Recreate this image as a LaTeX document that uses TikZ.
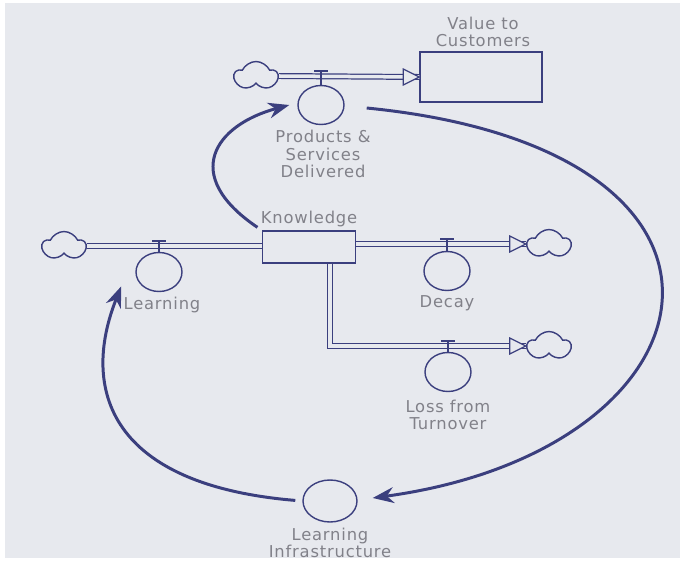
\documentclass[tikz,border=0pt]{standalone}
\usepackage{fontspec}
\setmainfont{DejaVu Sans}[LetterSpace=5]
\usetikzlibrary{arrows.meta,shapes.geometric,shapes.symbols}

\definecolor{ink}{HTML}{3B3F7E}
\definecolor{paper}{HTML}{E7E9EE}
\definecolor{txt}{HTML}{818189}

\tikzset{
  stock/.style={draw=ink,line width=0.8pt,fill=paper,inner sep=0pt},
  valve/.style={ellipse,draw=ink,line width=0.8pt,minimum width=0.92cm,minimum height=0.78cm,inner sep=0pt},
  source/.style={cloud,cloud puffs=5,cloud puff arc=130,aspect=1.5,draw=ink,line width=0.8pt,
    fill=paper,minimum width=0.86cm,minimum height=0.58cm,inner sep=0pt},
  pipe/.style={draw=ink,line width=0.7pt,double=paper,double distance=2pt},
  tip/.style={draw=ink,line width=0.7pt,fill=paper,line join=miter},
  stem/.style={draw=ink,line width=0.7pt},
  link/.style={draw=ink,line width=1.7pt,-{Stealth[length=12pt,width=9pt]}},
  lbl/.style={text=txt,font=\fontsize{9.3}{9.8}\selectfont,align=center}
}

\begin{document}
\begin{tikzpicture}[x=0.02cm,y=-0.02cm]
\useasboundingbox (0,0) rectangle (684,561);
\fill[white] (0,0) rectangle (684,561);
\fill[paper] (5,3) rectangle (680,558);

% stocks
\node[stock,minimum width=2.44cm,minimum height=1cm] (value) at (481,77) {};
\node[stock,minimum width=1.86cm,minimum height=0.64cm] (know) at (309,247) {};
\node[lbl] (valuelbl) at (483,32) {Value to\\Customers};
\node[lbl] (knowlbl) at (309,219) {Knowledge};

% clouds
\node[source] (cloudT) at (256,76) {};
\node[source] (cloudA) at (64,246) {};
\node[source] (cloudB) at (549,244) {};
\node[source] (cloudC) at (549,346) {};

% pipes
\draw[pipe] (cloudT.east) -- (value.west);
\draw[pipe] (cloudA.east) -- (cloudA.east -| know.west);
\draw[pipe] (know.east |- cloudB.west) -- (cloudB.west);
\draw[pipe] ([xshift=0.42cm]know.south) |- (cloudC.west);

\draw[tip] (value.west) -- ++(-16,-8) -- ++(0,16) -- cycle;
\draw[tip] (cloudB.west) -- ++(-16,-8) -- ++(0,16) -- cycle;
\draw[tip] (cloudC.west) -- ++(-16,-8) -- ++(0,16) -- cycle;

% valves
\node[valve] (prod) at (321,105) {};
\node[valve] (learn) at (159,272) {};
\node[valve] (decay) at (447,271) {};
\node[valve] (loss) at (448,372) {};
\node[valve,minimum width=1.08cm,minimum height=0.84cm] (infra) at (330,501) {};

\draw[stem] (prod.north) -- (prod.north |- 0,71) ++(-7,0) -- ++(14,0);
\draw[stem] (learn.north) -- (learn.north |- 0,241) ++(-7,0) -- ++(14,0);
\draw[stem] (decay.north) -- (decay.north |- 0,239) ++(-7,0) -- ++(14,0);
\draw[stem] (loss.north) -- (loss.north |- 0,341) ++(-7,0) -- ++(14,0);

\node[lbl] (prodlbl) at (323,154) {Products \&\\Services\\Delivered};
\node[lbl] (learnlbl) at (162,305) {Learning};
\node[lbl] (decaylbl) at (447,303) {Decay};
\node[lbl] (losslbl) at (448,415) {Loss from\\Turnover};
\node[lbl] (infralbl) at (330,543) {Learning\\Infrastructure};

% feedback links
\draw[link,shorten <=3pt] (know.north west) .. controls (180,175) and (215,125) .. ([shift={(-8,0)}]prod.west);
\draw[link] ([shift={(22,3)}]prod.east) .. controls (790,150) and (725,450) .. ([shift={(15,-3)}]infra.east);
\draw[link,shorten <=4pt] (infra.west) .. controls (110,485) and (80,390) .. ([shift={(-21,0)}]learn.south west);
\end{tikzpicture}
\end{document}
